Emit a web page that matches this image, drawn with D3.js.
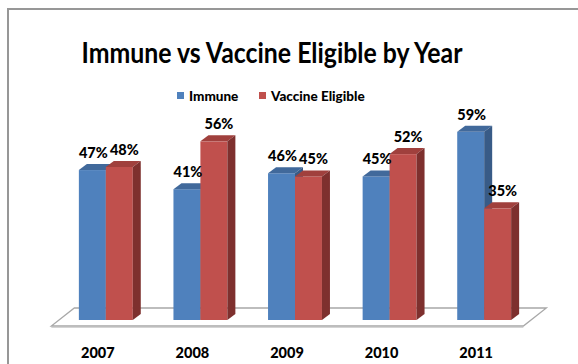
<!DOCTYPE html>
<html>
<head>
<meta charset="utf-8">
<script src="https://cdn.jsdelivr.net/npm/d3@7"></script>
<style>
   body { margin: 0; background: #fff; }
   svg { display: block; font-family: Lato, "Open Sans", sans-serif; font-weight: 900; }
</style>
</head>
<body>
<div id="chart"></div>
<script>
var years = ["2007", "2008", "2009", "2010", "2011"];
var immune = [47, 41, 46, 45, 59];
var vaccineEligible = [48, 56, 45, 52, 35];
var seriesNames = ["Immune", "Vaccine Eligible"];

var frontColors = ["#4F81BD", "#C0504D"];
var topColors = ["#41699B", "#A0403D"];
var sideColors = ["#385B87", "#7E302E"];

var width = 578, height = 364;
var depthX = 8, depthY = 6;      // bar depth offset
var slope = 23 / 18;             // floor perspective

var svg = d3.select("#chart").append("svg")
   .attr("width", width)
   .attr("height", height);

// chart border
svg.append("rect")
   .attr("x", 8)
   .attr("y", 9)
   .attr("width", width + 20)
   .attr("height", height + 20)
   .attr("fill", "#fff")
   .attr("stroke", "#979797")
   .attr("stroke-width", 2);

svg.append("text")
   .attr("x", 272)
   .attr("y", 63)
   .attr("text-anchor", "middle")
   .attr("font-size", 28.5)
   .attr("font-weight", "bold")
   .attr("textLength", 381)
   .attr("lengthAdjust", "spacingAndGlyphs")
   .attr("fill", "#000")
   .text("Immune vs Vaccine Eligible by Year");

// legend
var legendX = [177, 259];
var legend = svg.selectAll(".legend").data(seriesNames)
   .enter().append("g").attr("class", "legend")
   .attr("transform", function(d, i) { return "translate(" + legendX[i] + ",92)"; });

legend.append("rect")
   .attr("width", 7)
   .attr("height", 7)
   .attr("fill", function(d, i) { return frontColors[i]; });

legend.append("text")
   .attr("x", 12)
   .attr("y", 8.5)
   .attr("font-size", 13.5)
   .attr("fill", "#000")
   .text(function(d) { return d; });

var x = d3.scaleBand()
   .domain(years)
   .range([59, 531])
   .paddingInner(0.43)
   .paddingOuter(0.21);

var x1 = d3.scaleBand()
   .domain(seriesNames)
   .range([0, x.bandwidth()]);

var y = d3.scaleLinear()
   .domain([0, 60])
   .range([320, 128.6]);

var y0 = y(0);
var x0 = x.range()[0], xEnd = x.range()[1];

// floor
var floorFront = y0 + 6, floorBack = y0 - 12;
var floorPts = [
   [x0 - 6 * slope, floorFront],
   [xEnd - 6 * slope, floorFront],
   [xEnd + 12 * slope, floorBack],
   [x0 + 12 * slope, floorBack]
];
svg.append("polygon")
   .attr("points", floorPts.map(function(p) { return p.join(","); }).join(" "))
   .attr("fill", "#fff")
   .attr("stroke", "#a8a8a8")
   .attr("stroke-width", 1.3);
svg.append("line")
   .attr("x1", floorPts[0][0])
   .attr("x2", floorPts[1][0])
   .attr("y1", floorFront + 1.5)
   .attr("y2", floorFront + 1.5)
   .attr("stroke", "#d4d4d4")
   .attr("stroke-width", 1);

var rows = years.map(function(yr, i) {
   return { year: yr, values: [immune[i], vaccineEligible[i]] };
});

var groups = svg.selectAll(".group").data(rows)
   .enter().append("g").attr("class", "group")
   .attr("transform", function(d) { return "translate(" + x(d.year) + ",0)"; });

groups.each(function(d) {
   var g = d3.select(this);
   d.values.forEach(function(v, i) {
      var bx = x1(seriesNames[i]);
      var bw = x1.bandwidth();
      var top = y(v);

      g.append("rect")
         .attr("x", bx)
         .attr("y", top)
         .attr("width", bw)
         .attr("height", y0 - top)
         .attr("fill", frontColors[i]);

      g.append("polygon")
         .attr("points", [
            [bx, top], [bx + bw, top], [bx + bw + depthX, top - depthY], [bx + depthX, top - depthY]
         ].map(function(p) { return p.join(","); }).join(" "))
         .attr("fill", topColors[i]);

      g.append("polygon")
         .attr("points", [
            [bx + bw, top], [bx + bw + depthX, top - depthY], [bx + bw + depthX, y0 - depthY], [bx + bw, y0]
         ].map(function(p) { return p.join(","); }).join(" "))
         .attr("fill", sideColors[i]);
   });

   d.values.forEach(function(v, i) {
      g.append("text")
         .attr("x", x1(seriesNames[i]) + x1.bandwidth() / 2 + (i == 0 ? 1 : 5))
         .attr("y", y(v) - depthY - 6)
         .attr("text-anchor", "middle")
         .attr("font-size", 14.5)
         .attr("fill", "#000")
         .text(v + "%");
   });
});

// category labels
svg.selectAll(".year").data(years)
   .enter().append("text").attr("class", "year")
   .attr("x", function(d) { return x(d) + x.bandwidth() / 2 - 8; })
   .attr("y", 358)
   .attr("text-anchor", "middle")
   .attr("font-size", 14.5)
   .attr("fill", "#000")
   .text(function(d) { return d; });
</script>
</body>
</html>
